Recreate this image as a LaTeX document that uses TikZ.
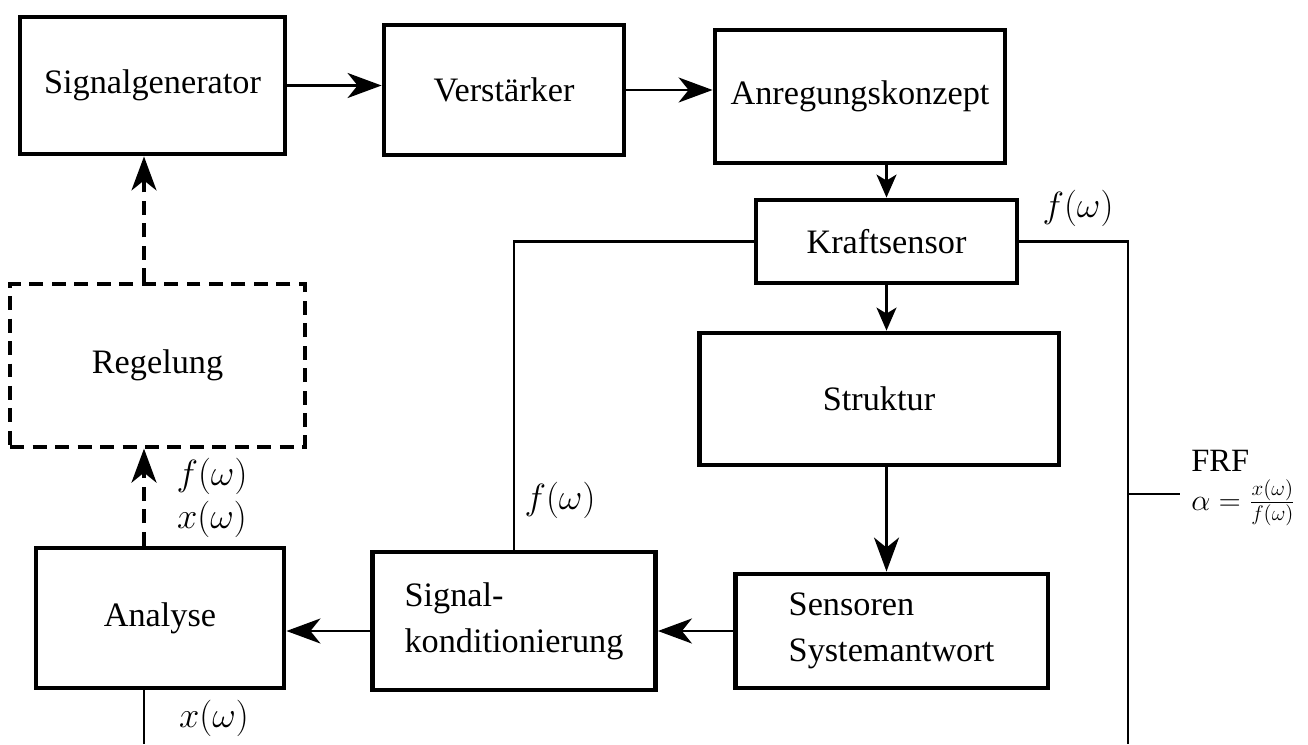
\documentclass[tikz,border=0pt]{standalone}
\usepackage{amsmath}
\usepackage{fontspec}
\setmainfont{Liberation Serif}
\usepackage{tikz}
\usetikzlibrary{positioning,arrows.meta}

\begin{document}
\begin{tikzpicture}[
    x=0.02cm, y=-0.02cm,
    block/.style={rectangle, draw, line width=2.8pt, align=left, inner sep=0pt, font=\fontsize{19.5}{26}\selectfont},
    dashblock/.style={block, line width=1.9pt, dash pattern=on 0.28cm off 0.17cm},
    arrow/.style={-{Stealth[length=0.68cm, width=0.5cm, inset=0.2cm]}, line width=1.5pt},
    smallarrow/.style={-{Stealth[length=0.46cm, width=0.4cm, inset=0.12cm]}, line width=1.2pt},
    dasharrow/.style={arrow, line width=1.8pt, dash pattern=on 0.28cm off 0.17cm},
    line/.style={line width=1.5pt},
    thinline/.style={line width=0.7pt},
    lbl/.style={font=\fontsize{19.5}{23}\selectfont}
]
    \useasboundingbox (0,0) rectangle (1308,744);

    % Bloecke
    \node [block, minimum width=5.3cm, minimum height=2.74cm] (gen) at (152.5,85.5) {Signalgenerator};
    \node [block, minimum width=4.8cm, minimum height=2.6cm] (verst) at (504,90) {Verstärker};
    \node [block, minimum width=5.8cm, minimum height=2.66cm] (anreg) at (860,96.5) {Anregungskonzept};
    \node [block, minimum width=5.22cm, minimum height=1.66cm] (kraft) at (886.5,241.5) {Kraftsensor};
    \node [block, minimum width=7.2cm, minimum height=2.64cm] (struktur) at (879,399) {Struktur};
    \node [block, minimum width=6.26cm, minimum height=2.28cm] (sensoren) at (891.5,631) {Sensoren\\Systemantwort};
    \node [block, minimum width=5.66cm, minimum height=2.76cm] (signalk) at (514,621) {Signal-\\konditionierung};
    \node [block, minimum width=4.96cm, minimum height=2.8cm] (analyse) at (160,618) {Analyse};
    \node [dashblock, minimum width=5.9cm, minimum height=3.26cm] (regel) at (157.5,365.5) {Regelung};

    % Hilfspunkte
    \coordinate (fb) at (144,0);
    \coordinate (anaend) at (144,744);
    \coordinate (frf) at (1128,494);
    \coordinate (frfend) at (1128,744);
    \coordinate (frftip) at (1180,494);
    \coordinate (sigout) at ([yshift=-0.2cm]signalk.west);

    % Verbindungen
    \draw [arrow] (gen.east) -- (gen.east -| verst.west);
    \draw [arrow] (verst.east) -- (verst.east -| anreg.west);
    \draw [smallarrow] (anreg.south -| kraft.north) -- (kraft.north);
    \draw [smallarrow] (kraft.south) -- (kraft.south |- struktur.north);
    \draw [arrow] (struktur.south -| kraft.south) -- (sensoren.north -| kraft.south);
    \draw [arrow] (sensoren.west) -- (sensoren.west -| signalk.east);
    \draw [arrow] (sigout) -- (sigout -| analyse.east);
    \draw [line] (kraft.west) -| (signalk.north);
    \draw [line] (kraft.east) -- (kraft.east -| frf) -- (frfend);
    \draw [thinline] (frf) -- (frftip);
    \draw [line] (analyse.south -| fb) -- (anaend);
    \draw [dasharrow] (analyse.north -| fb) -- (regel.south -| fb);
    \draw [dasharrow] (regel.north -| fb) -- (gen.south -| fb);

    % Beschriftungen
    \node [lbl] (fkraft) at (1078,208) {$f(\omega)$};
    \node [lbl] (fsig) at (560,500) {$f(\omega)$};
    \node [lbl] (fregel) at (212,476) {$f(\omega)$};
    \node [lbl] (xregel) at (212,519) {$x(\omega)$};
    \node [lbl] (xana) at (214,718) {$x(\omega)$};
    \node [anchor=west, align=left, inner sep=0pt, font=\fontsize{18.5}{22}\selectfont] (frflbl) at (1191,488) {FRF\\$\alpha=\frac{x(\omega)}{f(\omega)}$};
\end{tikzpicture}
\end{document}
